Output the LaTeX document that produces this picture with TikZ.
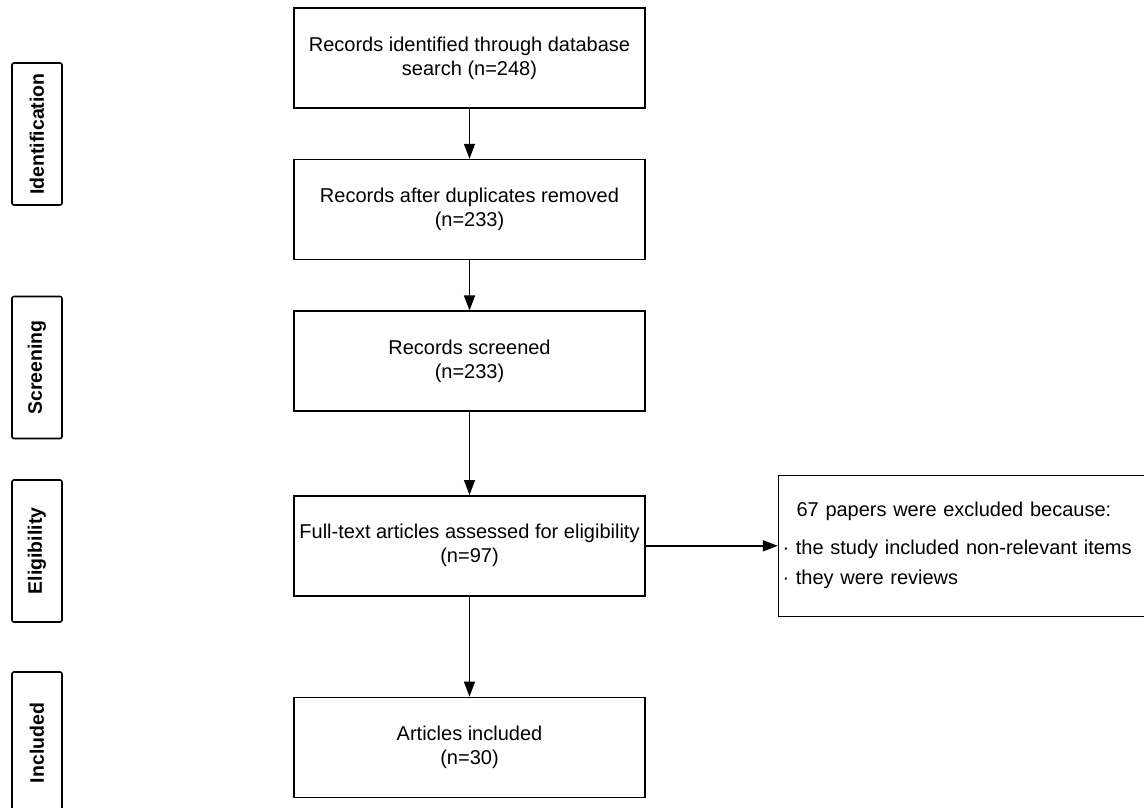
\documentclass[tikz,border=0pt]{standalone}
\usepackage{fontspec}
\setmainfont{Liberation Sans}
\usetikzlibrary{positioning}
\usetikzlibrary{arrows.meta}

\begin{document}
\begin{tikzpicture}
 [ x=1pt, y=-1pt
 , line width=1.6pt
 , box/.style={draw, minimum width=351pt, minimum height=100pt, align=center, inner sep=2pt, font=\fontsize{20}{24}\selectfont}
 , stage/.style={draw, rounded corners=2pt, rotate=90, minimum width=142pt, minimum height=50pt, font=\fontsize{19.5}{22}\selectfont\bfseries}
 , side/.style={draw, minimum width=366pt, minimum height=141pt, text width=358pt, align=left, inner xsep=4pt, font=\fontsize{20}{30}\selectfont}
 , flow/.style={-{Triangle[length=15pt,width=11pt]}}
 ]
  \useasboundingbox (0,0) rectangle (1144,807);

  % stages
  \node [stage] (ident) at (37,134)   {Identification};
  \node [stage] (screen) at (37,367.5) {Screening};
  \node [stage] (elig) at (37,551)    {Eligibility};
  \node [stage] (incl) at (37,743)    {Included};

  % flow
  \node [box] (found) at (469.5,58) {Records identified through database\\search (n=248)};
  \node [box, below=50pt of found] (nodup) {Records after duplicates removed\\(n=233)};
  \node [box, below=50pt of nodup] (screened) {Records screened\\(n=233)};
  \node [box, below=83pt of screened] (fulltext) {Full-text articles assessed for eligibility\\(n=97)};
  \node [box, below=100pt of fulltext] (kept) {Articles included\\(n=30)};
  \node [side, right=132pt of fulltext] (excluded)
    {\hspace*{14pt}67 papers were excluded because:\\[8pt]
     · the study included non-relevant items\\
     · they were reviews};

  \draw [flow] (found) -- (nodup);
  \draw [flow] (nodup) -- (screened);
  \draw [flow] (screened) -- (fulltext);
  \draw [flow] (fulltext) -- (kept);
  \draw [flow] (fulltext) -- (excluded);
\end{tikzpicture}
\end{document}
